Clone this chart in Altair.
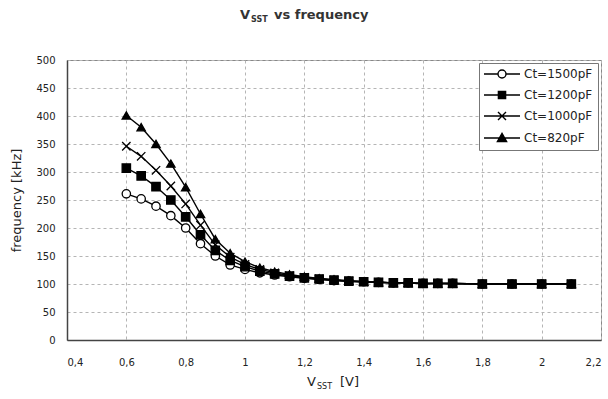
import altair as alt
import pandas as pd

# ---------------- data ----------------
vsst = [0.6, 0.65, 0.7, 0.75, 0.8, 0.85, 0.9, 0.95, 1.0, 1.05, 1.1, 1.15, 1.2, 1.25,
        1.3, 1.35, 1.4, 1.45, 1.5, 1.55, 1.6, 1.65, 1.7, 1.8, 1.9, 2.0, 2.1]
f_1500 = [261, 252, 239, 222, 200, 172, 150, 134, 126, 120, 116, 113, 110, 108,
          106, 105, 104, 103, 102, 102, 101, 101, 101, 100, 100, 100, 100]
f_1200 = [307, 293, 274, 250, 220, 188, 160, 142, 131, 123, 118, 114, 111, 109,
          107, 105, 104, 103, 102, 102, 101, 101, 101, 100, 100, 100, 100]
f_1000 = [346, 328, 303, 275, 243, 205, 170, 148, 135, 126, 120, 115, 112, 109,
          107, 105, 104, 103, 102, 102, 101, 101, 101, 100, 100, 100, 100]
f_820 = [401, 380, 350, 315, 273, 225, 180, 155, 140, 129, 122, 117, 113, 110,
         108, 106, 104, 103, 102, 102, 101, 101, 101, 100, 100, 100, 100]
series_names = ["Ct=1500pF", "Ct=1200pF", "Ct=1000pF", "Ct=820pF"]
x_ticks = [0.4, 0.6, 0.8, 1.0, 1.2, 1.4, 1.6, 1.8, 2.0, 2.2]
y_ticks = [0, 50, 100, 150, 200, 250, 300, 350, 400, 450, 500]

rows = []
for name, vals in zip(series_names, [f_1500, f_1200, f_1000, f_820]):
    for v, f in zip(vsst, vals):
        rows.append({"v": v, "f": f, "series": name})
df = pd.DataFrame(rows)

FONT = "DejaVu Sans"
TXT = "#222222"
W, H = 534, 280

marker_shapes = ["circle", "square", "M-1,-1L1,1M-1,1L1,-1", "triangle-up"]
marker_fills = ["white", "black", "transparent", "black"]
legend_shapes = [
    "M-4.5,0H-1M1,0H4.5M1,0A1,1,0,1,1,-1,0A1,1,0,1,1,1,0Z",
    "M-4.5,0H4.5M-0.9,-0.9H0.9V0.9H-0.9Z",
    "M-4.5,0H4.5M-1,-1L1,1M-1,1L1,-1",
    "M-4.5,0H4.5M0,-1.15L1.15,0.9H-1.15Z",
]

xenc = alt.X(
    "v:Q",
    scale=alt.Scale(domain=[0.4, 2.2], nice=False, zero=False),
    axis=alt.Axis(
        values=x_ticks,
        labelExpr="replace(format(datum.value, '.1~f'), '.', ',')",
        title=None,
        labelPadding=17,
    ),
)
yenc = alt.Y(
    "f:Q",
    scale=alt.Scale(domain=[0, 500], nice=False),
    axis=alt.Axis(
        values=y_ticks,
        title="frequency [kHz]",
        labelPadding=12,
        titleX=-44,
        titleY=H / 2,
        titleAngle=-90,
        titleAlign="center",
        titleBaseline="bottom",
    ),
)

base = alt.Chart(df).encode(x=xenc, y=yenc)

lines = base.mark_line(color="black", strokeWidth=1.4).encode(detail="series:N")

points = base.mark_point(stroke="black", strokeWidth=1.3, size=70, opacity=1).encode(
    shape=alt.Shape("series:N", scale=alt.Scale(domain=series_names, range=marker_shapes), legend=None),
    fill=alt.Fill("series:N", scale=alt.Scale(domain=series_names, range=marker_fills), legend=None),
)

leg = alt.Legend(
    title=None,
    orient="top-right",
    offset=3,
    fillColor="white",
    strokeColor="#777777",
    padding=5,
    symbolSize=64,
    symbolStrokeWidth=1.4,
    symbolOffset=12,
    labelOffset=16,
    labelFontSize=12,
    labelFont=FONT,
    labelColor=TXT,
    rowPadding=7,
)

# legend-only layer: line + marker symbols, no visible data marks
legend_layer = base.transform_filter("false").mark_point(
    strokeWidth=1.4, size=64, opacity=1
).encode(
    shape=alt.Shape("series:N", scale=alt.Scale(domain=series_names, range=legend_shapes), legend=leg),
    fill=alt.Fill("series:N", scale=alt.Scale(domain=series_names, range=marker_fills), legend=leg),
    stroke=alt.Stroke("series:N", scale=alt.Scale(domain=series_names, range=["black"] * 4), legend=leg),
)


def txt(s, x, y, size, align="left", weight="normal", color=TXT):
    return alt.Chart(alt.Data(values=[{}])).mark_text(
        text=s, align=align, baseline="alphabetic", fontSize=size, font=FONT,
        color=color, fontWeight=weight,
    ).encode(x=alt.value(x), y=alt.value(y))


# chart title "V_SST vs frequency"
TC = "#333333"
title_layers = [
    txt("V", 183, -41, 13, "right", "bold", TC),
    txt("SST", 184, -38, 8, "left", "bold", TC),
    txt("vs frequency", 207, -41, 13, "left", "bold", TC),
]
# x-axis title "V_SST [V]"
xtitle_layers = [
    txt("V", 249, 326, 13, "right"),
    txt("SST", 250, 329, 8, "left"),
    txt("[V]", 273, 326, 13, "left"),
]

chart = alt.layer(lines, points, legend_layer, *title_layers, *xtitle_layers).resolve_scale(
    shape="independent", fill="independent", stroke="independent"
).properties(
    width=W,
    height=H,
    autosize=alt.AutoSizeParams(type="none"),
    padding={"left": 67, "top": 60, "right": 7, "bottom": 59},
    background="white",
).configure_view(
    stroke="#888888", strokeWidth=1
).configure_axis(
    grid=True,
    gridDash=[3, 3],
    gridColor="#b5b5b5",
    gridWidth=1,
    ticks=False,
    domainColor="#444444",
    domainWidth=1.5,
    labelFont=FONT,
    labelFontSize=10,
    labelColor=TXT,
    titleFont=FONT,
    titleFontSize=13,
    titleFontWeight="normal",
    titleColor=TXT,
)

chart.save("out.html", embed_options={"renderer": "svg", "actions": False})
